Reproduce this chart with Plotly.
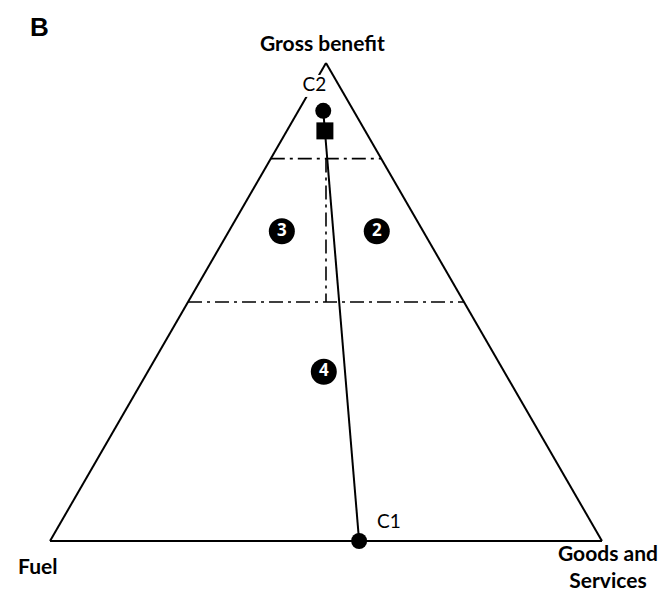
import plotly.graph_objects as go

# ---- data (ternary compositions: a = Gross benefit, b = Fuel, c = Goods and Services)
axis_titles = ["Gross benefit", "Fuel", "Goods and<br>Services"]
panel_label = "B"

zone_thresholds = [0.8, 0.5]          # horizontal dash-dot lines (a-values)
split_a = [0.8, 0.5]                  # vertical dash-dot split (b = c)

path_names = ["C1", "C2"]
path_a = [0.0, 0.90]
path_b = [0.44, 0.055]
path_c = [0.56, 0.045]

square_a = [0.858]
square_b = [0.073]
square_c = [0.069]

zone_labels = ["3", "2", "4"]
zone_a = [0.648, 0.648, 0.354]
zone_b = [0.256, 0.084, 0.327]
zone_c = [0.096, 0.268, 0.319]

label_a = [0.038, 0.952]
label_b = [0.367, 0.045]
label_c = [0.595, 0.003]

W, H = 672, 598
tri_left, tri_right, tri_bottom, tri_top = 42, 594, 533, 55

fig = go.Figure()

dash_style = "14px,5px,3px,5px"
for t in zone_thresholds:
    fig.add_trace(go.Scatterternary(
        a=[t, t], b=[1 - t, 0], c=[0, 1 - t], mode="lines",
        line=dict(color="black", width=1.6, dash=dash_style), hoverinfo="skip"))

fig.add_trace(go.Scatterternary(
    a=split_a, b=[(1 - v) / 2 for v in split_a], c=[(1 - v) / 2 for v in split_a],
    mode="lines", line=dict(color="black", width=1.6, dash=dash_style), hoverinfo="skip"))

fig.add_trace(go.Scatterternary(
    a=path_a, b=path_b, c=path_c, mode="lines+markers", cliponaxis=False,
    line=dict(color="black", width=2),
    marker=dict(symbol="circle", size=16, color="black")))

fig.add_trace(go.Scatterternary(
    a=square_a, b=square_b, c=square_c, mode="markers", cliponaxis=False,
    marker=dict(symbol="square", size=17, color="black")))

fig.add_trace(go.Scatterternary(
    a=zone_a, b=zone_b, c=zone_c, mode="markers+text", text=zone_labels,
    textposition="middle center", cliponaxis=False,
    textfont=dict(color="white", size=17, family="Open Sans", weight="bold"),
    marker=dict(symbol="circle", size=26, color="black")))

# point labels, with a white backing so the frame line is interrupted as in the original
fig.add_trace(go.Scatterternary(
    a=label_a, b=label_b, c=label_c, mode="markers+text", text=path_names,
    textposition="middle center", cliponaxis=False,
    marker=dict(symbol="square", size=22, color="white"),
    textfont=dict(color="black", size=19, family="Lato", weight="normal")))

axis_common = dict(showticklabels=False, showgrid=False, ticks="", showline=True,
                   linecolor="black", linewidth=2, min=0, title=dict(text=""),
                   layer="below traces")

label_font = dict(family="Lato", size=21, color="black", weight="bold")


def ann(text, x, y, font, align="center"):
    return dict(text=text, x=x / W, y=1 - y / H, xref="paper", yref="paper",
                xanchor="center", yanchor="middle", showarrow=False, font=font,
                align=align)


fig.update_layout(
    width=W, height=H,
    margin=dict(l=0, r=0, t=0, b=0),
    paper_bgcolor="white",
    showlegend=False,
    ternary=dict(
        sum=1,
        bgcolor="white",
        domain=dict(x=[tri_left / W, tri_right / W], y=[1 - tri_bottom / H, 1 - tri_top / H]),
        aaxis=axis_common, baxis=axis_common, caxis=axis_common,
    ),
    annotations=[
        ann(panel_label, 31, 19, dict(family="Liberation Sans", size=26, color="black", weight="bold")),
        ann(axis_titles[0], 314, 35, label_font),
        ann(axis_titles[1], 29, 557, label_font),
        ann(axis_titles[2], 600, 558, label_font),
    ],
)

fig.write_html("out.html")
